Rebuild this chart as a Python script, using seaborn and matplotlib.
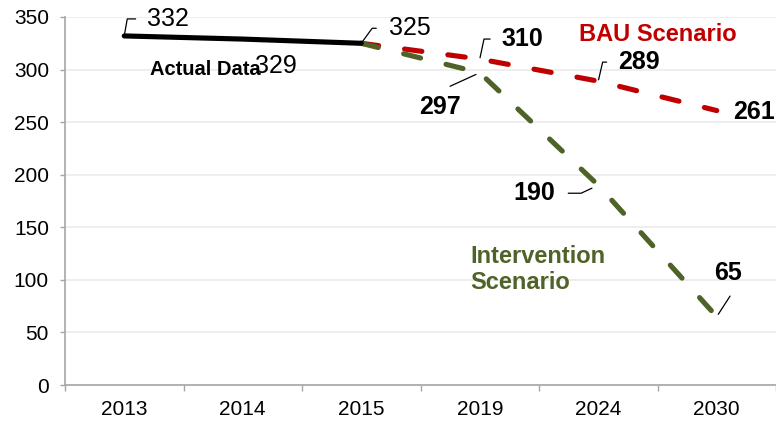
import matplotlib
matplotlib.use("Agg")
import matplotlib.pyplot as plt
import numpy as np
import pandas as pd
import seaborn as sns

# categories and series values
years = ["2013", "2014", "2015", "2019", "2024", "2030"]
actual_years = ["2013", "2014", "2015"]
actual_vals = [332, 329, 325]
bau_years = ["2015", "2019", "2024", "2030"]
bau_vals = [325, 310, 289, 261]
interv_years = ["2015", "2019", "2024", "2030"]
interv_vals = [325, 297, 190, 65]

RED = "#C00000"
GREEN = "#4F6228"
GRID = "#EBEBEB"
AXIS = "#A6A6A6"


def frame(yrs, vals):
    return pd.DataFrame({"pos": [years.index(y) for y in yrs], "value": vals})


sns.set_theme(style="white")
plt.rcParams["font.family"] = ["Liberation Sans", "DejaVu Sans"]
plt.rcParams["text.color"] = "black"
plt.rcParams["xtick.labelcolor"] = "black"
plt.rcParams["ytick.labelcolor"] = "black"

fig = plt.figure(figsize=(7.76, 4.23), dpi=100)
ax = fig.add_axes([65 / 776, 38 / 423, 711 / 776, 368 / 423])

dash = (0, (3.4, 5.1))
sns.lineplot(data=frame(bau_years, bau_vals), x="pos", y="value", color=RED,
             linewidth=3.7, linestyle=dash, dash_capstyle="round", ax=ax)
sns.lineplot(data=frame(interv_years, interv_vals), x="pos", y="value", color=GREEN,
             linewidth=3.7, linestyle=dash, dash_capstyle="round", ax=ax)
sns.lineplot(data=frame(actual_years, actual_vals), x="pos", y="value", color="black",
             linewidth=3.7, solid_capstyle="round", ax=ax)

ax.set_xlim(-0.5, 5.475)
ax.set_ylim(0, 350)
ax.set_yticks(np.arange(0, 351, 50))
ax.set_xticks(range(len(years)))
ax.set_xticklabels(years)
ax.set_xticks(np.arange(-0.5, len(years), 1.0), minor=True)
ax.set_xlabel("")
ax.set_ylabel("")
ax.grid(axis="y", color=GRID, linewidth=1.2)
ax.set_axisbelow(True)
for side in ["top", "right"]:
    ax.spines[side].set_visible(False)
for side in ["left", "bottom"]:
    ax.spines[side].set_color(AXIS)
    ax.spines[side].set_linewidth(1.2)
ax.tick_params(axis="y", which="major", left=True, length=3.6, width=1, color=AXIS,
               labelsize=15, pad=8)
ax.tick_params(axis="x", which="major", bottom=True, length=0, labelsize=15, pad=11)
ax.tick_params(axis="x", which="minor", bottom=True, length=4.5, width=1, color=AXIS)

px = 0.72  # pixels -> points


def label(x, y, text, dx, dy, bold=True, ha="left", conn=None, relpos=(0, 0.5),
          shrinkA=6.5, shrinkB=0):
    kw = {}
    if conn is not None:
        kw["arrowprops"] = dict(arrowstyle="-", color="black", lw=0.9, connectionstyle=conn,
                                shrinkA=shrinkA, shrinkB=shrinkB, relpos=relpos)
    ax.annotate(text, xy=(x, y), xytext=(dx * px, dy * px), textcoords="offset points",
                fontsize=18, fontweight="bold" if bold else "normal", ha=ha, va="center", **kw)


def bent(angle_b, angle_a=0):
    return "angle,angleA=%g,angleB=%g,rad=0" % (angle_a, angle_b)


# actual data labels
label(0, actual_vals[0], "332", 23, 17, bold=False, conn=bent(80), shrinkA=6)
label(1, actual_vals[1], "329", 12, -27, bold=False)
label(2, actual_vals[2], "325", 28, 15, bold=False, conn=bent(54), shrinkA=7)
# BAU labels
label(3, bau_vals[1], "310", 22, 20, conn=bent(78), shrinkA=6, shrinkB=1)
label(4, bau_vals[2], "289", 20, 19, conn=bent(77), shrinkA=6, shrinkB=1)
label(5, bau_vals[3], "261", 16, -1)
# intervention labels
label(3, interv_vals[1], "297", -19, -34, ha="right", conn="arc3,rad=0", relpos=(0.3, 1),
      shrinkA=9, shrinkB=3)
label(4, interv_vals[2], "190", -43, -8, ha="right", conn=bent(25), relpos=(1, 0.5),
      shrinkA=7, shrinkB=5)
label(5, interv_vals[3], "65", 11, 44, ha="center", conn="arc3,rad=0", relpos=(0.85, 0),
      shrinkA=7, shrinkB=2)

ax.text(0.214, 300, "Actual Data", fontsize=14.5, fontweight="bold", ha="left", va="center")
ax.text(4.5, 333, "BAU Scenario", fontsize=17, fontweight="bold", color=RED, ha="center", va="center")
ax.text(2.92, 110, "Intervention\nScenario", fontsize=17, fontweight="bold", color=GREEN,
        ha="left", va="center", linespacing=1.15)

fig.savefig("out.png", dpi=100)
